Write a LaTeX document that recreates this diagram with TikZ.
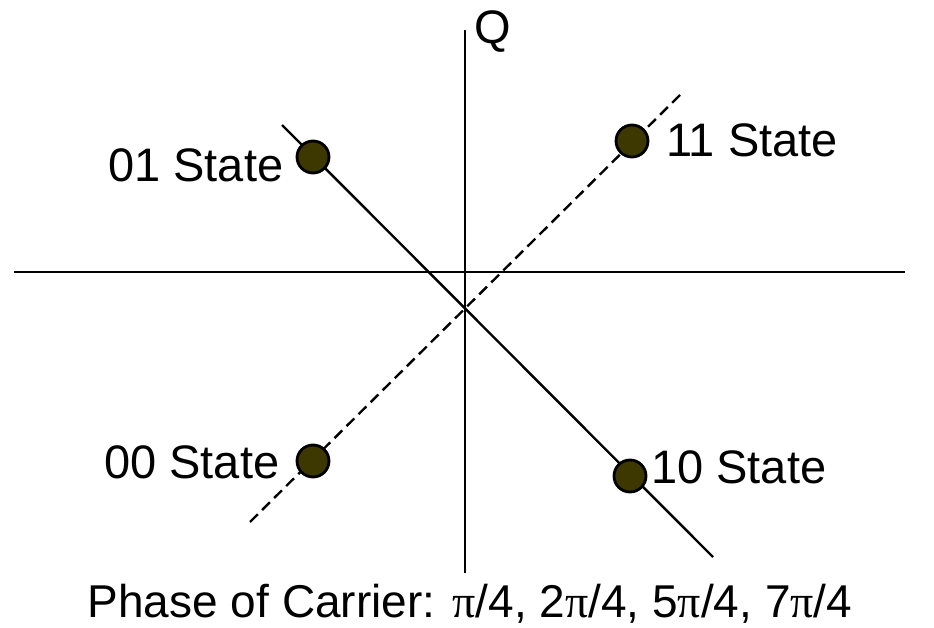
\documentclass[tikz,border=0pt]{standalone}
\usepackage{fontspec}
\setmainfont{Liberation Sans}
\newfontfamily\piserif{Liberation Serif}
\definecolor{dotfill}{RGB}{60,56,0}
\newcommand{\mypi}{{\piserif π}}
\begin{document}
\begin{tikzpicture}[x=1pt,y=-1pt,
  axis/.style={line width=2.6pt},
  stateline/.style={line width=2.4pt},
  dotnode/.style={circle,draw=black,line width=2.8pt,fill=dotfill,minimum size=32pt,inner sep=0pt},
  lbl/.style={inner sep=0pt,anchor=base west,font=\fontsize{47}{50}\selectfont}]
\useasboundingbox (0,0) rectangle (934,628);
\fill[white] (0,0) rectangle (934,628);
% axes
\coordinate (yt) at (465,30);
\coordinate (yb) at (465,573);
\coordinate (xl) at (14,272);
\coordinate (xr) at (905,272);
\draw[axis] (yt) -- (yb);
\draw[axis] (xl) -- (xr);
% state lines
\coordinate (s1) at (282,125);
\coordinate (s2) at (713,557);
\coordinate (d1) at (250,522);
\coordinate (d2) at (681,94);
\draw[stateline] (s1) -- (s2);
\draw[stateline,dash pattern=on 11pt off 6pt] (d1) -- (d2);
% dots
\node[dotnode] (p01) at (313,157) {};
\node[dotnode] (p11) at (632,141) {};
\node[dotnode] (p00) at (313,461) {};
\node[dotnode] (p10) at (630,476) {};
% labels
\node[lbl] (q) at (474,44) {Q};
\node[lbl] (l01) at (108,182) {01 State};
\node[lbl] (l11) at (666,157) {11 State};
\node[lbl] (l00) at (104,478) {00 State};
\node[lbl] (l10) at (651,483) {10 State};
\node[inner sep=0pt,anchor=base,font=\fontsize{46}{48}\selectfont] (cap) at (470,617)
  {Phase of Carrier: \mypi/4, 2\mypi/4, 5\mypi/4, 7\mypi/4};
\end{tikzpicture}
\end{document}
